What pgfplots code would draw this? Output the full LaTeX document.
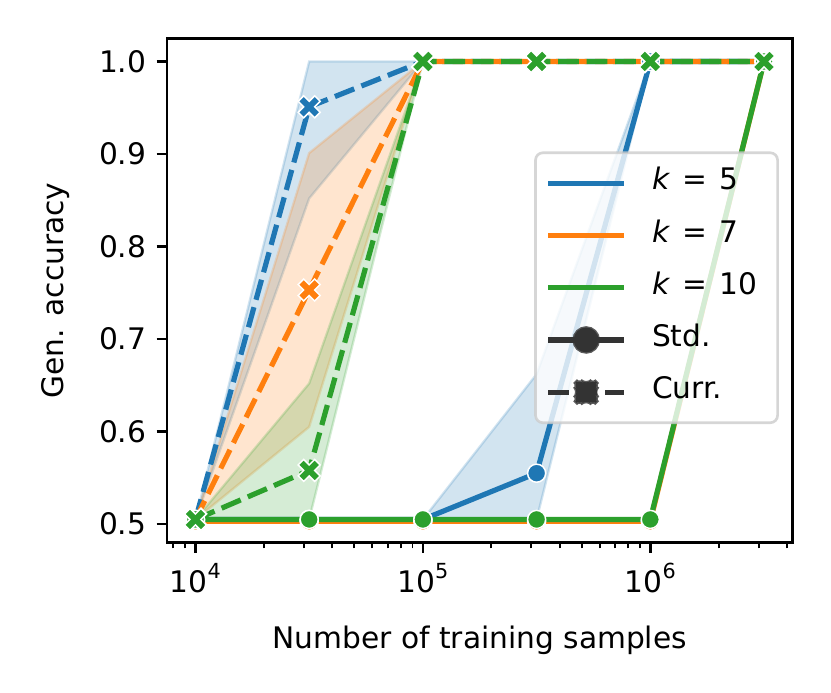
\documentclass[border=0pt]{standalone}
\usepackage{fontspec}
\setmainfont{DejaVu Sans}
\usepackage{pgfplots}
\pgfplotsset{compat=1.18}
\definecolor{c5}{HTML}{1F77B4}
\definecolor{c7}{HTML}{FF7F0E}
\definecolor{c10}{HTML}{2CA02C}
\definecolor{dk}{HTML}{333333}

\pgfdeclareplotmark{fatx}{%
  \pgfpathmoveto{\pgfqpoint{-0.5\pgfplotmarksize}{-\pgfplotmarksize}}%
  \pgfpathlineto{\pgfqpoint{0pt}{-0.5\pgfplotmarksize}}%
  \pgfpathlineto{\pgfqpoint{0.5\pgfplotmarksize}{-\pgfplotmarksize}}%
  \pgfpathlineto{\pgfqpoint{\pgfplotmarksize}{-0.5\pgfplotmarksize}}%
  \pgfpathlineto{\pgfqpoint{0.5\pgfplotmarksize}{0pt}}%
  \pgfpathlineto{\pgfqpoint{\pgfplotmarksize}{0.5\pgfplotmarksize}}%
  \pgfpathlineto{\pgfqpoint{0.5\pgfplotmarksize}{\pgfplotmarksize}}%
  \pgfpathlineto{\pgfqpoint{0pt}{0.5\pgfplotmarksize}}%
  \pgfpathlineto{\pgfqpoint{-0.5\pgfplotmarksize}{\pgfplotmarksize}}%
  \pgfpathlineto{\pgfqpoint{-\pgfplotmarksize}{0.5\pgfplotmarksize}}%
  \pgfpathlineto{\pgfqpoint{-0.5\pgfplotmarksize}{0pt}}%
  \pgfpathlineto{\pgfqpoint{-\pgfplotmarksize}{-0.5\pgfplotmarksize}}%
  \pgfpathclose
  \pgfusepathqfillstroke
}

\pgfplotsset{
  band/.style={forget plot, mark=none, solid, line width=0.8pt, fill opacity=0.2, draw opacity=0.2},
  std/.style={forget plot, line width=1.75pt, solid, mark=*, mark size=3.05pt,
    mark options={solid, draw=white, fill=#1, line width=0.5pt}, color=#1},
  curr/.style={forget plot, line width=1.75pt, dash pattern=on 7pt off 2.6pt, mark=fatx, mark size=3.7pt,
    mark options={solid, draw=white, fill=#1, line width=0.5pt}, color=#1},
}

\newcommand{\sq}[1]{10\raisebox{0.85ex}{\fontsize{7}{7}\selectfont #1}}
\newcommand{\keq}[1]{\textit{k}\hspace{4.2pt}=\hspace{4.2pt}#1}

\begin{document}
\begin{tikzpicture}
\path[use as bounding box] (-56.3pt,-50.7pt) rectangle (223.8pt,182.8pt);
\begin{axis}[
  at={(0pt,0pt)}, anchor=south west,
  scale only axis, width=210.8pt, height=169.8pt,
  xmode=log, log basis x=10,
  xmin=7499, xmax=4216965, ymin=0.48025, ymax=1.02475,
  xtick={10000,100000,1000000},
  xticklabels={\sq{4},\sq{5},\sq{6}},
  minor xtick={8000,9000,20000,30000,40000,50000,60000,70000,80000,90000,200000,300000,400000,500000,600000,700000,800000,900000,2000000,3000000,4000000},
  ytick={0.5,0.6,0.7,0.8,0.9,1.0},
  yticklabels={0.5,0.6,0.7,0.8,0.9,1.0},
  tick align=outside, tick pos=left,
  major tick length=3.5pt, minor tick length=2pt,
  every tick/.style={black, line width=0.85pt},
  every minor tick/.style={black, line width=0.65pt},
  axis line style={line width=0.9pt},
  xlabel={Number of training samples},
  ylabel={Gen. accuracy},
  xlabel style={at={(axis description cs:0.5,-0.1954)}, anchor=center},
  ylabel style={at={(axis description cs:-0.179,0.5)}, anchor=center},
  legend style={at={(0.9784,0.776)}, anchor=north east,
    draw=black!20, draw opacity=0.8, line width=0.9pt, rounded corners=2.5pt,
    fill=white, fill opacity=0.8, text opacity=1,
    inner xsep=3.4pt, inner ysep=1.5pt, row sep=0pt,
    nodes={inner xsep=0pt, inner ysep=0pt, text height=11pt, text depth=6.6pt}},
  legend cell align=left,
]
% confidence bands (drawn below the lines)
\addplot[band, c5, fill=c5] coordinates {(100000,0.505) (316228,0.505) (1000000,1.0) (316228,0.662) (100000,0.505)};
\addplot[band, c5, fill=c5] coordinates {(10000,0.505) (31623,0.852) (100000,1.0) (31623,1.0) (10000,0.505)};
\addplot[band, c7, fill=c7] coordinates {(10000,0.505) (31623,0.605) (100000,1.0) (31623,0.901) (10000,0.505)};
\addplot[band, c10, fill=c10] coordinates {(10000,0.505) (31623,0.505) (100000,1.0) (31623,0.652) (10000,0.505)};
% mean lines
\addplot[std=c5] coordinates {(10000,0.505) (31623,0.505) (100000,0.505) (316228,0.555) (1000000,1.0) (3162278,1.0)};
\addplot[curr=c5] coordinates {(10000,0.505) (31623,0.951) (100000,1.0) (316228,1.0) (1000000,1.0) (3162278,1.0)};
\addplot[std=c7] coordinates {(10000,0.503) (31623,0.503) (100000,0.503) (316228,0.503) (1000000,0.503) (3162278,1.0)};
\addplot[curr=c7] coordinates {(10000,0.505) (31623,0.753) (100000,1.0) (316228,1.0) (1000000,1.0) (3162278,1.0)};
\addplot[std=c10] coordinates {(10000,0.505) (31623,0.505) (100000,0.505) (316228,0.505) (1000000,0.505) (3162278,1.0)};
\addplot[curr=c10] coordinates {(10000,0.505) (31623,0.558) (100000,1.0) (316228,1.0) (1000000,1.0) (3162278,1.0)};
% legend
\addlegendimage{legend image code/.code={\path[draw=none,fill=none] (0pt,0pt) -- (35pt,0pt); \draw[c5, line width=1.75pt, opacity=1] (0pt,0pt) -- (25.6pt,0pt);}}
\addlegendentry{\keq{5}}
\addlegendimage{legend image code/.code={\path[draw=none,fill=none] (0pt,0pt) -- (35pt,0pt); \draw[c7, line width=1.75pt, opacity=1] (0pt,0pt) -- (25.6pt,0pt);}}
\addlegendentry{\keq{7}}
\addlegendimage{legend image code/.code={\path[draw=none,fill=none] (0pt,0pt) -- (35pt,0pt); \draw[c10, line width=1.75pt, opacity=1] (0pt,0pt) -- (25.6pt,0pt);}}
\addlegendentry{\keq{10}\kern3.3pt\null}
\addlegendimage{legend image code/.code={\path[draw=none,fill=none] (0pt,0pt) -- (35pt,0pt); \draw[dk, line width=1.75pt, opacity=1] (0pt,0pt) -- (25.6pt,0pt); \fill[dk, fill opacity=1] (12.8pt,0pt) circle (4.2pt);}}
\addlegendentry{Std.}
\addlegendimage{legend image code/.code={\path[draw=none,fill=none] (0pt,0pt) -- (35pt,0pt); \draw[dk, line width=1.75pt, dash pattern=on 7pt off 2.6pt, opacity=1] (0pt,0pt) -- (25.6pt,0pt);
  \fill[dk, fill opacity=1, shift={(12.8pt,0pt)}] (-2.275pt,-4.55pt) -- (0pt,-2.275pt) -- (2.275pt,-4.55pt) -- (4.55pt,-2.275pt) -- (2.275pt,0pt) -- (4.55pt,2.275pt) -- (2.275pt,4.55pt) -- (0pt,2.275pt) -- (-2.275pt,4.55pt) -- (-4.55pt,2.275pt) -- (-2.275pt,0pt) -- (-4.55pt,-2.275pt) -- cycle;}}
\addlegendentry{Curr.}
\end{axis}
\end{tikzpicture}
\end{document}
